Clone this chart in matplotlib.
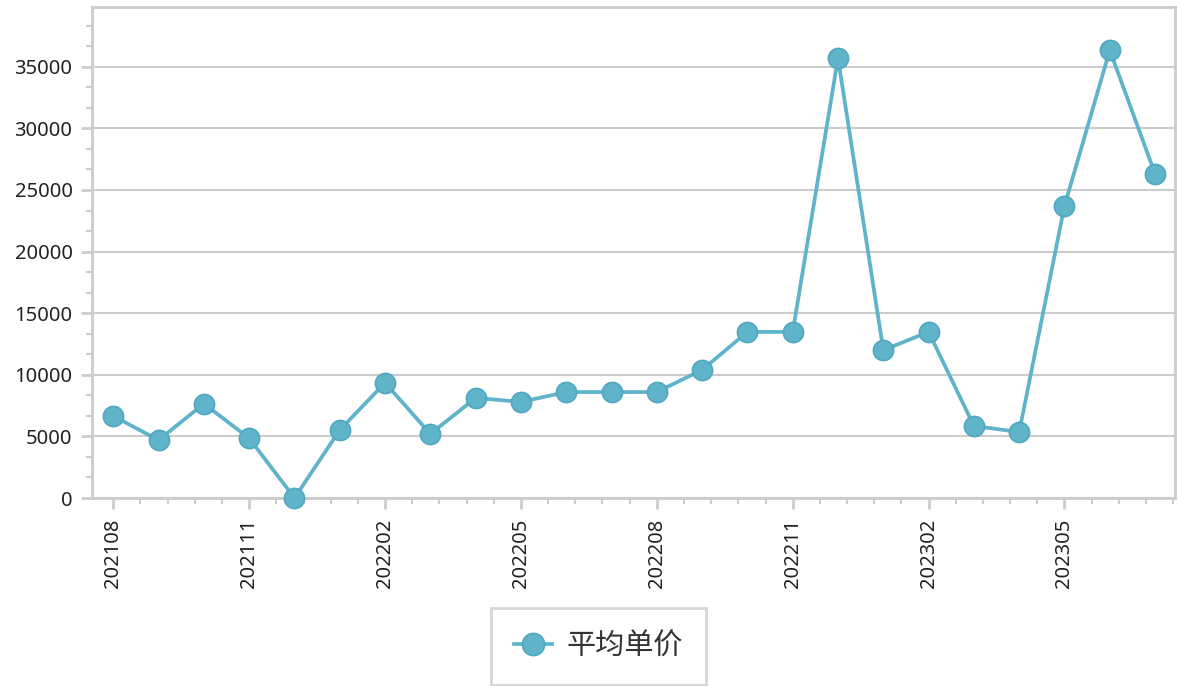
import matplotlib
matplotlib.use("Agg")
import matplotlib.pyplot as plt
from matplotlib.ticker import MultipleLocator, AutoMinorLocator

months = ["202108", "202109", "202110", "202111", "202112", "202201", "202202", "202203",
          "202204", "202205", "202206", "202207", "202208", "202209", "202210", "202211",
          "202212", "202301", "202302", "202303", "202304", "202305", "202306", "202307"]
avg_price = [6650, 4700, 7650, 4850, 0, 5520, 9350, 5200,
             8120, 7800, 8600, 8600, 8600, 10400, 13480, 13480,
             35700, 12000, 13480, 5850, 5350, 23700, 36350, 26300]

line_color = "#5fb4ca"
edge_color = "#4fa7c0"
grid_color = "#cccccc"

plt.rcParams["font.family"] = ["Noto Sans", "Noto Sans CJK SC", "DejaVu Sans"]

fig = plt.figure(figsize=(11.79, 6.86), dpi=100)
ax = fig.add_axes([92 / 1179, 1 - 498 / 686, (1175 - 92) / 1179, (498 - 7) / 686])

x = list(range(len(months)))
ax.plot(x, avg_price, color=line_color, linewidth=2.7, marker="o", markersize=14.5,
        markerfacecolor=line_color, markeredgecolor=edge_color, markeredgewidth=1.2,
        label="平均单价", clip_on=False, zorder=3)

ax.set_xlim(-0.47, 23.44)
ax.set_ylim(0, 39850)

ax.yaxis.set_major_locator(MultipleLocator(5000))
ax.yaxis.set_minor_locator(AutoMinorLocator(3))
ax.xaxis.set_major_locator(MultipleLocator(3))
ax.xaxis.set_minor_locator(AutoMinorLocator(5))
ax.set_xticks(x[::3])
ax.set_xticklabels(months[::3], rotation=90)

ax.grid(axis="y", color=grid_color, linewidth=1.5)
ax.set_axisbelow(True)

for sp in ax.spines.values():
    sp.set_color(grid_color)
    sp.set_linewidth(2)

ax.tick_params(axis="both", which="major", length=8, width=2, color=grid_color,
               labelsize=14.5, labelcolor="#222222")
ax.tick_params(axis="both", which="minor", length=4, width=1.5, color=grid_color)
ax.tick_params(axis="x", which="major", pad=7)
ax.tick_params(axis="y", which="major", pad=6)

leg = fig.legend(loc="upper center", bbox_to_anchor=(598.5 / 1179, 1 - 608 / 686),
                 frameon=True, fancybox=False, fontsize=21, handlelength=1.3,
                 borderpad=0.8, handletextpad=0.5, borderaxespad=0, markerscale=1.1)
leg.get_frame().set_edgecolor(grid_color)
leg.get_frame().set_linewidth(2)
for t in leg.get_texts():
    t.set_family(["Noto Sans CJK SC", "DejaVu Sans"])
    t.set_color("#333333")

fig.savefig("out.png", dpi=100)
